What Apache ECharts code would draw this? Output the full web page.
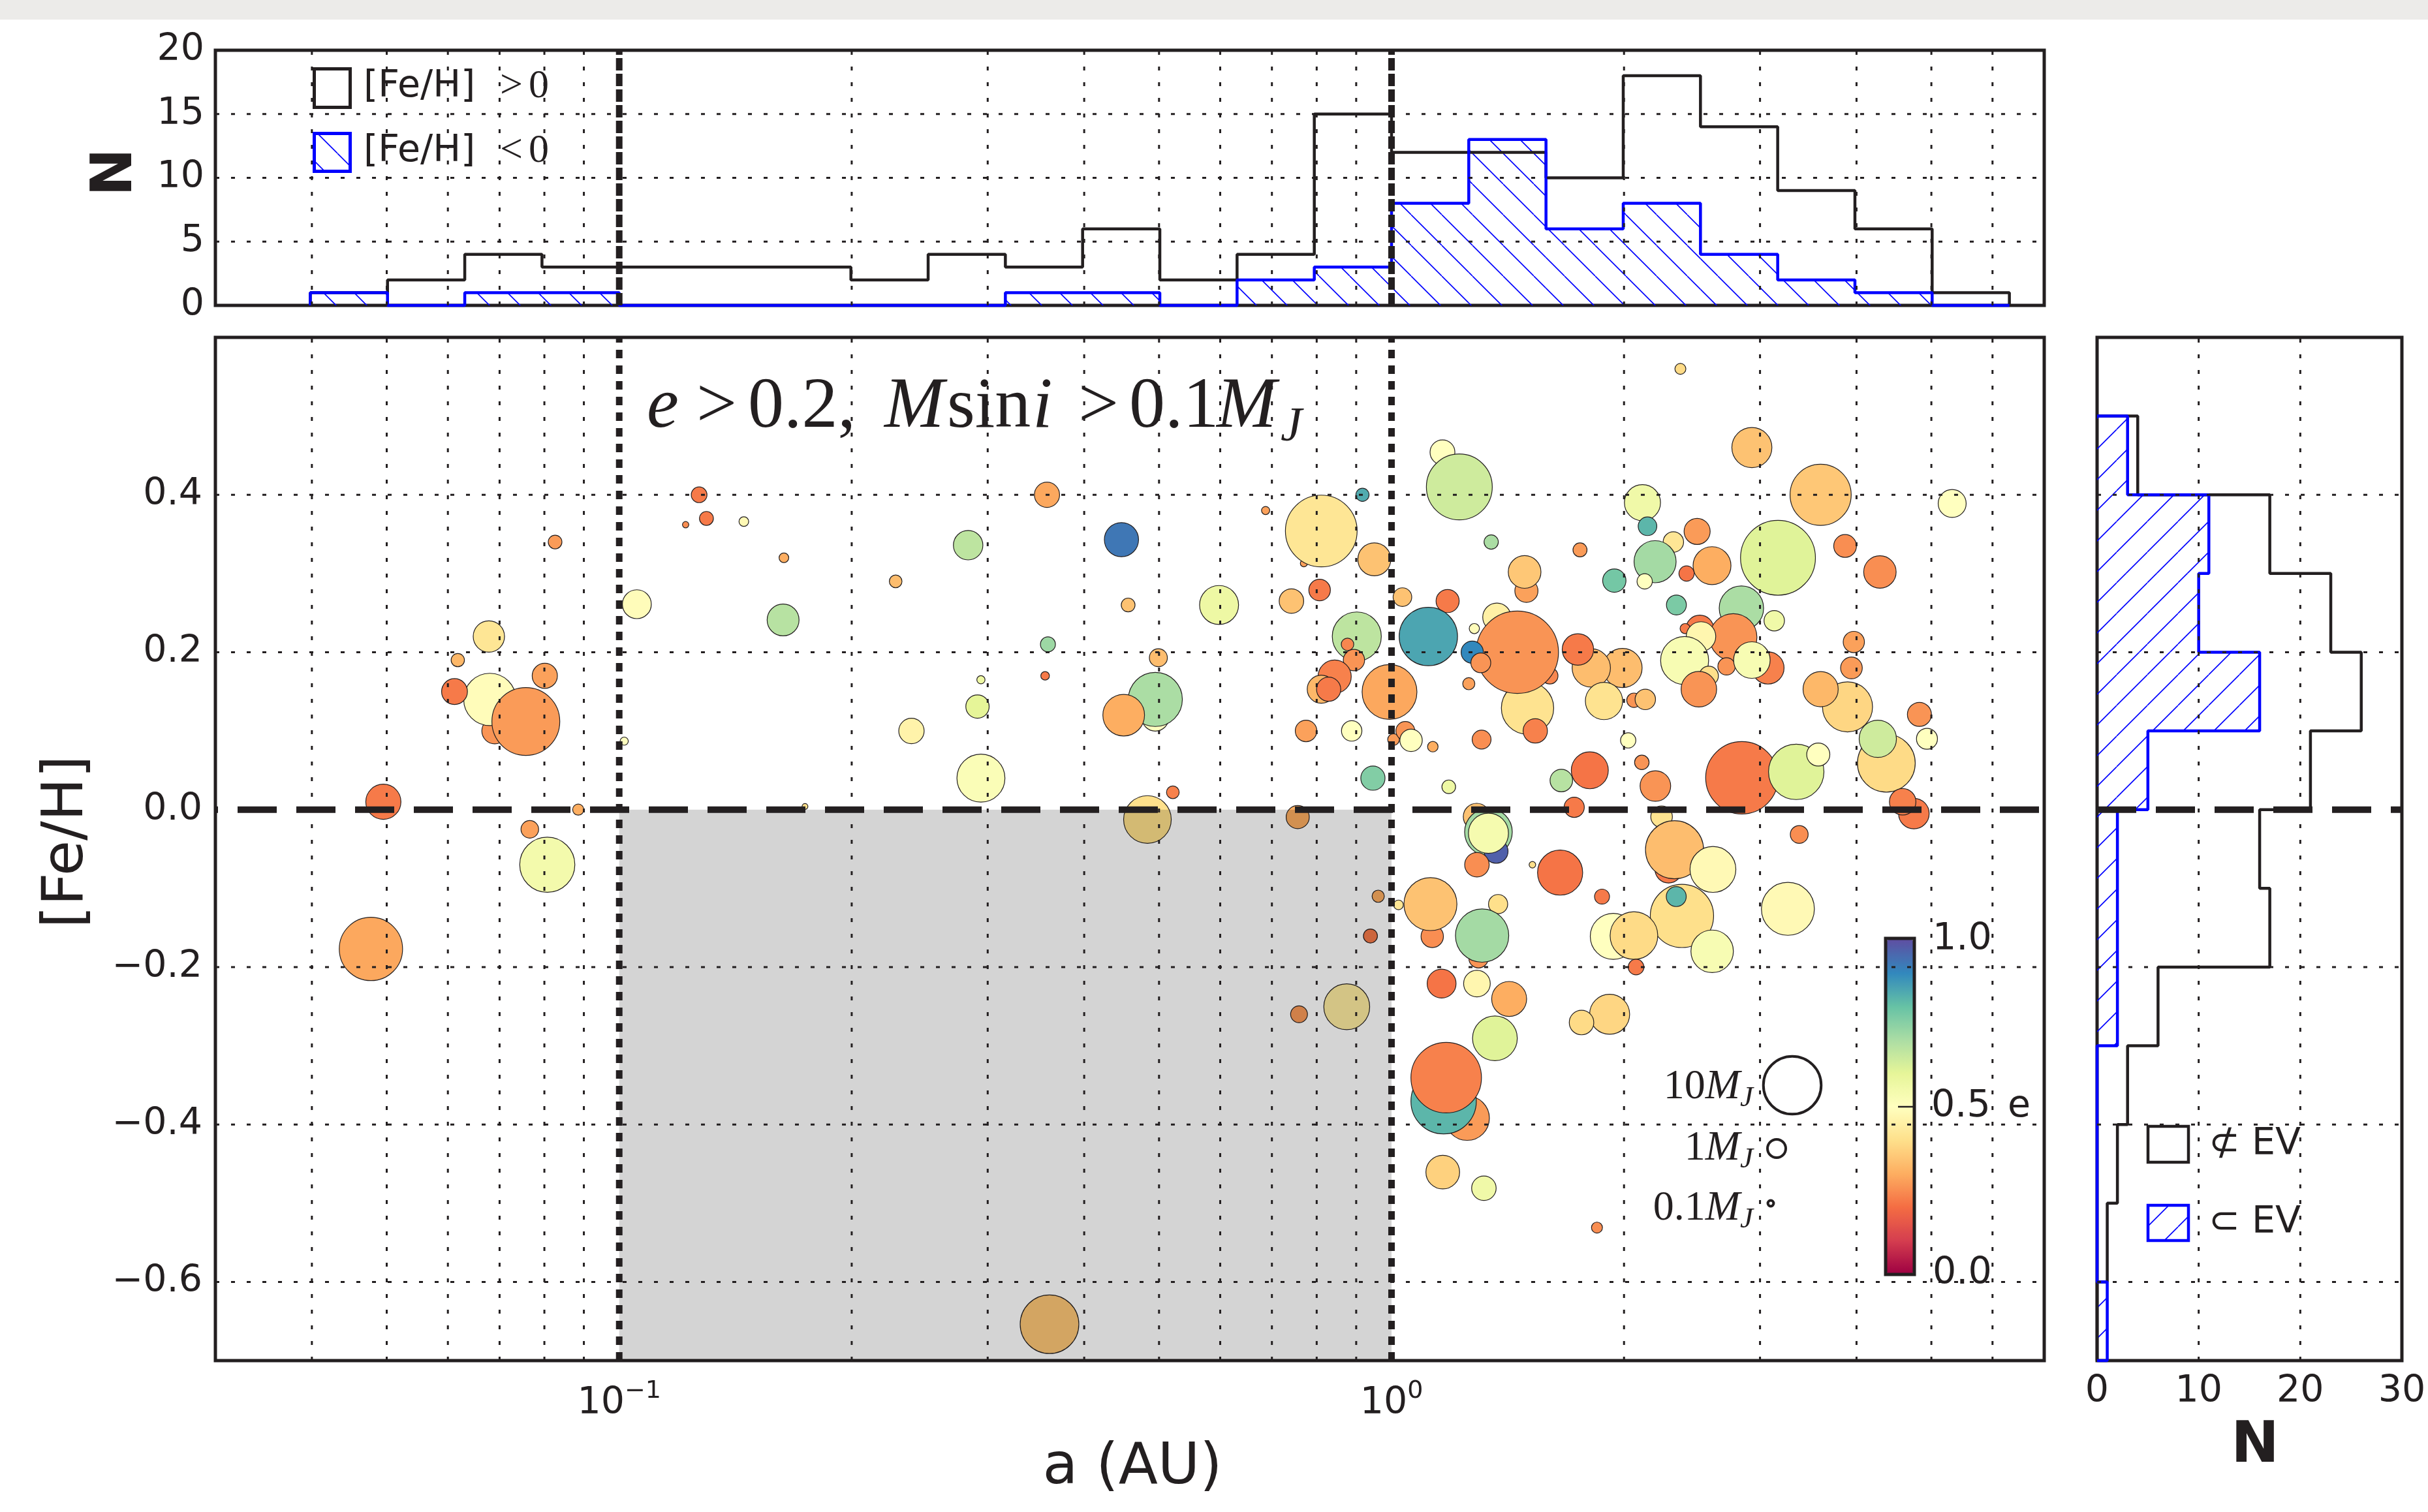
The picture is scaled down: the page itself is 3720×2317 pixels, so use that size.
<!DOCTYPE html>
<html><head><meta charset="utf-8">
<script src="https://cdn.jsdelivr.net/npm/echarts@6/dist/echarts.min.js"></script>
<style>html,body{margin:0;padding:0;background:#fff}#c{width:3720px;height:2317px}</style>
</head><body><div id="c"></div>
<script>
// ---------------- data ----------------
// planets: semi-major axis (AU), [Fe/H], Msini (MJ), eccentricity
const aAU = [
 0.0826,0.0678,0.0618,0.0690,0.0680,0.0612,0.0801,0.0757,0.1015,0.0495,0.0885,0.0766,0.0807,0.0477,0.174,
 0.1269,0.1297,0.1219,0.145,0.1634,0.1054,0.163,0.228,0.283,0.358,0.447,0.687,0.770,0.811,0.456,0.598,0.742,0.807,0.359,0.356,0.294,0.291,0.239,0.294,0.499,0.4945,0.4945,0.450,0.521,0.775,
 0.483,0.756,0.961,0.939,0.875,0.759,0.3607,1.021,
 0.917,0.950,0.9016,0.877,0.894,0.844,0.811,0.829,0.994,0.888,0.946,1.006,1.042,1.060,1.131,
 2.366,1.164,1.224,1.346,1.754,1.495,1.487,1.033,1.182,1.116,1.280,1.369,1.500,1.603,1.455,1.272,1.305,1.259,1.535,1.308,1.186,1.659,1.806,1.724,
 1.991,1.814,1.743,1.884,2.060,2.131,2.025,2.109,2.196,2.113,2.145,2.317,2.194,2.127,2.410,1.943,2.338,2.487,2.600,2.928,3.594,5.320,3.165,3.866,4.289,2.838,3.130,
 2.507,2.770,2.400,2.516,2.396,2.575,2.500,2.715,3.072,2.928,3.968,3.940,3.894,3.594,4.825,4.935,4.372,4.262,2.842,3.342,3.569,4.746,4.590,
 3.372,1.289,1.335,1.366,1.335,1.290,1.522,1.653,1.873,2.237,2.284,2.325,2.377,2.337,2.607,3.260,2.601,1.937,2.060,2.073,1.916,1.762,
 1.129,1.123,1.374,1.296,1.310,1.161,1.290,1.420,1.361,1.253,1.168,1.177,1.165,1.317,1.845
];
const feH = [
 0.340,0.220,0.190,0.100,0.140,0.150,0.170,0.112,0.087,0.010,0.000,-0.025,-0.070,-0.177,0.004,
 0.400,0.370,0.362,0.366,0.320,0.261,0.241,0.290,0.336,0.400,0.343,0.380,0.313,0.354,0.260,0.260,0.265,0.279,0.210,0.170,0.165,0.131,0.100,0.040,0.193,0.117,0.140,0.120,0.022,0.100,
 -0.0125,-0.0095,-0.110,-0.1605,-0.2505,-0.260,-0.6538,-0.121,
 0.400,0.318,0.220,0.210,0.190,0.169,0.153,0.153,0.1495,0.100,0.040,0.089,0.100,0.088,0.080,
 0.560,0.454,0.410,0.340,0.330,0.278,0.302,0.270,0.265,0.220,0.230,0.2445,0.129,0.170,0.200,0.200,0.1865,0.160,0.100,0.089,0.029,0.037,0.050,0.003,
 0.180,0.180,0.2035,0.138,0.139,0.140,0.088,0.060,0.030,0.390,0.360,0.340,0.315,0.290,0.300,0.291,0.260,0.3535,0.310,0.460,0.400,0.389,0.320,0.335,0.302,0.256,0.240,
 0.2295,0.219,0.230,0.220,0.1895,0.170,0.153,0.182,0.180,0.190,0.213,0.180,0.1305,0.153,0.121,0.090,0.059,0.090,0.0405,0.048,0.070,-0.005,0.010,
 -0.0315,-0.009,-0.0285,-0.053,-0.030,-0.070,-0.070,-0.080,-0.1105,-0.009,-0.076,-0.051,-0.135,-0.1105,-0.076,-0.126,-0.180,-0.161,-0.160,-0.200,-0.260,-0.2705,
 -0.161,-0.120,-0.120,-0.189,-0.160,-0.221,-0.221,-0.2405,-0.2905,-0.392,-0.3705,-0.3405,-0.4605,-0.481,-0.531
];
const massMJ = [
 0.56,2.94,0.53,2.0,8.2,2.0,1.9,13.8,0.2,3.7,0.37,0.93,9.1,12.0,0.1,
 0.74,0.58,0.12,0.28,0.28,2.5,3.05,0.48,2.6,1.9,3.5,0.2,0.15,15.4,0.57,4.55,1.8,1.39,0.67,0.22,0.2,1.63,1.93,6.9,0.97,2.2,8.75,5.2,0.48,1.39,
 6.8,1.6,0.45,0.59,6.3,0.85,10.3,0.28,
 0.52,3.25,7.2,0.47,1.36,3.3,2.36,1.75,9.0,1.25,1.76,0.41,1.07,1.5,0.33,
 0.36,1.85,13.0,0.61,0.59,1.6,3.2,1.04,1.6,10.2,0.31,2.4,8.2,0.8,20.3,1.48,1.18,0.44,1.77,1.07,0.56,1.52,4.1,1.22,
 4.6,4.4,2.95,4.15,0.62,1.25,0.7,0.63,2.8,3.9,1.04,1.25,5.3,0.7,0.7,1.63,1.19,2.04,4.3,4.8,11.2,2.35,16.8,1.55,3.15,5.9,1.25,
 2.3,6.7,0.31,2.6,6.9,1.1,3.77,0.9,3.1,4.0,1.35,1.41,7.5,3.7,1.73,1.32,10.0,4.16,15.7,9.2,1.6,2.8,2.1,
 0.95,2.15,6.8,1.7,4.8,1.8,0.13,6.1,0.67,1.4,2.2,10.1,12.0,1.19,6.3,8.4,5.4,6.35,6.8,0.73,4.8,1.8,
 1.5,8.4,1.1,1.1,8.5,2.5,2.13,3.66,6.0,5.9,12.8,14.9,3.4,1.8,0.36
];
const ecc = [
 0.27,0.42,0.32,0.26,0.49,0.22,0.28,0.27,0.50,0.22,0.30,0.28,0.55,0.29,0.40,
 0.22,0.22,0.25,0.48,0.30,0.49,0.68,0.33,0.67,0.29,0.93,0.28,0.28,0.42,0.34,0.57,0.34,0.22,0.72,0.22,0.57,0.60,0.46,0.52,0.33,0.50,0.70,0.30,0.23,0.28,
 0.40,0.30,0.30,0.22,0.44,0.27,0.35,0.42,
 0.84,0.34,0.67,0.24,0.26,0.23,0.32,0.22,0.29,0.50,0.76,0.27,0.26,0.50,0.30,
 0.39,0.50,0.64,0.70,0.27,0.28,0.35,0.34,0.22,0.85,0.49,0.45,0.41,0.24,0.26,0.90,0.26,0.28,0.23,0.25,0.57,0.68,0.21,0.22,
 0.33,0.33,0.22,0.41,0.26,0.34,0.50,0.26,0.26,0.56,0.82,0.42,0.71,0.50,0.21,0.78,0.77,0.27,0.30,0.34,0.35,0.50,0.61,0.25,0.25,0.70,0.56,
 0.22,0.26,0.22,0.47,0.53,0.40,0.26,0.26,0.23,0.53,0.28,0.27,0.38,0.32,0.26,0.50,0.39,0.64,0.22,0.61,0.50,0.22,0.23,
 0.25,0.34,0.71,0.97,0.54,0.25,0.40,0.21,0.22,0.41,0.22,0.33,0.40,0.82,0.48,0.48,0.53,0.50,0.39,0.22,0.38,0.39,
 0.25,0.34,0.40,0.26,0.71,0.21,0.47,0.30,0.61,0.27,0.82,0.23,0.37,0.56,0.25
];

// top histogram of a: log10 bin edges, counts for [Fe/H]>0 and [Fe/H]<0
const aLogEdges = [-1.4,-1.3,-1.2,-1.1,-1.0,-0.9,-0.8,-0.7,-0.6,-0.5,-0.4,-0.3,-0.2,-0.1,0.0,0.1,0.2,0.3,0.4,0.5,0.6,0.7,0.8];
const nFeHpos = [1,2,4,3,3,3,3,2,4,3,6,2,4,15,12,12,10,18,14,9,6,1];
const nFeHneg = [1,0,1,1,0,0,0,0,0,1,1,0,2,3,8,13,6,8,4,2,1,0];

// right histogram of [Fe/H]: bin edges (top to bottom), counts outside / inside EV
const fehEdges = [0.5,0.4,0.3,0.2,0.1,0.0,-0.1,-0.2,-0.3,-0.4,-0.5,-0.6,-0.7];
const nNotEV = [4,17,23,26,21,16,17,6,3,2,1,0];
const nInEV  = [3,11,10,16,5,2,2,2,0,0,0,1];

// axis ticks / grid positions
const aMinorGrid = [0.04,0.05,0.06,0.07,0.08,0.09,0.2,0.3,0.4,0.5,0.6,0.7,0.8,0.9,2,3,4,5,6];
const aMajorLines = [0.1, 1];
const fehGrid = [-0.6,-0.4,-0.2,0.2,0.4];
const nTopGrid = [5,10,15];
const nRightGrid = [10,20];
const evRegion = [0.1, 1.0, -0.7, 0.0];   // a from 0.1 to 1 AU, [Fe/H] < 0
const sizeLegendMass = [10, 1, 0.1];

// ---------------- styling ----------------
const SPECTRAL = ['#9e0142','#d53e4f','#f46d43','#fdae61','#fee08b','#ffffbf','#e6f598','#abdda4','#66c2a5','#3288bd','#5e4fa2'];
const INK = '#231f20';
const BLUE = '#0000ff';
const SANS = 'DejaVu Sans';
const SERIF = 'Liberation Serif';
const TICK = 57;
const sizeOf = m => 28 * Math.sqrt(m);

function makeHatch(dir) {
  const s = 47, c = document.createElement('canvas');
  c.width = s; c.height = s;
  const g = c.getContext('2d');
  g.strokeStyle = BLUE; g.lineWidth = 1.6;
  g.beginPath();
  for (let k = -1; k <= 1; k++) {
    if (dir === 'back') { g.moveTo(k * s, 0); g.lineTo(k * s + s, s); }
    else { g.moveTo(k * s, s); g.lineTo(k * s + s, 0); }
  }
  g.stroke();
  return { image: c, repeat: 'repeat' };
}
const hatchBack = makeHatch('back');
const hatchFwd = makeHatch('fwd');

const points = aAU.map((a, i) => [a, feH[i], massMJ[i], ecc[i]]);
const aEdges = aLogEdges.map(v => Math.pow(10, v));

function stepTop(counts) {
  const pts = [[aEdges[0], 0]];
  counts.forEach((c, i) => { pts.push([aEdges[i], c]); pts.push([aEdges[i + 1], c]); });
  pts.push([aEdges[aEdges.length - 1], 0]);
  return pts;
}
function stepRight(counts) {
  const pts = [[0, fehEdges[0]]];
  counts.forEach((c, i) => { pts.push([c, fehEdges[i]]); pts.push([c, fehEdges[i + 1]]); });
  pts.push([0, fehEdges[fehEdges.length - 1]]);
  return pts;
}

function lineSet(xi, yi, segs, style, z) {
  return {
    type: 'custom', xAxisIndex: xi, yAxisIndex: yi, z: z, silent: true,
    data: segs, encode: { x: [0, 2], y: [1, 3] },
    renderItem: (p, api) => {
      const s = api.coord([api.value(0), api.value(1)]);
      const t = api.coord([api.value(2), api.value(3)]);
      return { type: 'line', shape: { x1: s[0], y1: s[1], x2: t[0], y2: t[1] },
               style: Object.assign({ stroke: INK, fill: null }, style) };
    }
  };
}
const DOT = { lineWidth: 3, lineDash: [6, 18] };

function fehLabel(v) {
  const k = Math.round(v * 10);
  if (k % 2 !== 0 || k < -6 || k > 4) return '';
  return (k < 0 ? '\u2212' : '') + (Math.abs(k) / 10).toFixed(1);
}
function logLabel(v) {
  const e = Math.log10(v), r = Math.round(e);
  if (Math.abs(e - r) > 1e-6) return '';
  return '{b|10}{s|' + (r < 0 ? '\u2212' : '') + Math.abs(r) + '}';
}

const labelBase = { fontFamily: SANS, fontSize: TICK, color: INK };

const topBins = nFeHneg.map((n, i) => [aEdges[i], aEdges[i + 1], n]);
const rightBins = nInEV.map((n, i) => [n, fehEdges[i], fehEdges[i + 1]]);

const serifRich = (size) => ({
  fontFamily: SERIF, fontSize: size, lineHeight: Math.round(size * 1.24), color: INK, fill: INK
});

const option = {
  animation: false,
  backgroundColor: '#ffffff',
  grid: [
    { left: 330, top: 517, width: 2802, height: 1568, show: true, borderColor: INK, borderWidth: 5, backgroundColor: 'transparent' },
    { left: 330, top: 77, width: 2802, height: 391, show: true, borderColor: INK, borderWidth: 5, backgroundColor: 'transparent' },
    { left: 3213, top: 517, width: 467, height: 1568, show: true, borderColor: INK, borderWidth: 5, backgroundColor: 'transparent' }
  ],
  xAxis: [
    { type: 'log', logBase: 10, min: 0.03, max: 7, gridIndex: 0,
      axisLine: { show: false }, axisTick: { show: false }, splitLine: { show: false },
      axisLabel: { formatter: logLabel, margin: 28,
        rich: { b: Object.assign({}, labelBase, { lineHeight: 76 }),
                s: Object.assign({}, labelBase, { fontSize: 38, lineHeight: 38, verticalAlign: 'top' }) } } },
    { type: 'log', logBase: 10, min: 0.03, max: 7, gridIndex: 1,
      axisLine: { show: false }, axisTick: { show: false }, splitLine: { show: false }, axisLabel: { show: false } },
    { type: 'value', min: 0, max: 30, interval: 10, gridIndex: 2,
      axisLine: { show: false }, axisTick: { show: false }, splitLine: { show: false },
      axisLabel: Object.assign({ margin: 20, lineHeight: 56 }, labelBase) }
  ],
  yAxis: [
    { type: 'value', min: -0.7, max: 0.6, interval: 0.1, gridIndex: 0,
      axisLine: { show: false }, axisTick: { show: false }, splitLine: { show: false },
      axisLabel: Object.assign({ formatter: fehLabel, margin: 20 }, labelBase) },
    { type: 'value', min: 0, max: 20, interval: 5, gridIndex: 1,
      axisLine: { show: false }, axisTick: { show: false }, splitLine: { show: false },
      axisLabel: Object.assign({ margin: 17 }, labelBase) },
    { type: 'value', min: -0.7, max: 0.6, interval: 0.1, gridIndex: 2,
      axisLine: { show: false }, axisTick: { show: false }, splitLine: { show: false },
      axisLabel: { show: false } }
  ],
  visualMap: {
    type: 'continuous', seriesIndex: 0, dimension: 3, min: 0, max: 1,
    inRange: { color: SPECTRAL }, calculable: false, hoverLink: false,
    left: 2891, top: 1440, itemWidth: 40, itemHeight: 512, padding: 0, text: null
  },
  series: [
    { type: 'scatter', xAxisIndex: 0, yAxisIndex: 0, z: 2, silent: true,
      data: points, symbolSize: d => sizeOf(d[2]),
      itemStyle: { borderColor: INK, borderWidth: 1.2, opacity: 1 } },
    { type: 'custom', xAxisIndex: 0, yAxisIndex: 0, z: 3, silent: true,
      data: [evRegion], encode: { x: [0, 1], y: [2, 3] },
      renderItem: (p, api) => {
        const s = api.coord([api.value(0), api.value(2)]);
        const t = api.coord([api.value(1), api.value(3)]);
        return { type: 'rect', shape: { x: s[0], y: t[1], width: t[0] - s[0], height: s[1] - t[1] },
                 style: { fill: 'rgba(0,0,0,0.17)' } };
      } },
    lineSet(0, 0, aMinorGrid.map(v => [v, -0.7, v, 0.6]), DOT, 4),
    lineSet(0, 0, fehGrid.map(v => [0.03, v, 7, v]), DOT, 4),
    lineSet(0, 0, aMajorLines.map(v => [v, -0.7, v, 0.6]), { lineWidth: 10, lineDash: [13, 11] }, 5),
    lineSet(0, 0, [[0.03, 0, 7, 0]], { lineWidth: 10, lineDash: [60, 30], lineDashOffset: 56 }, 5),

    // top histogram
    { type: 'custom', xAxisIndex: 1, yAxisIndex: 1, z: 2, silent: true,
      data: topBins, encode: { x: [0, 1], y: 2 },
      renderItem: (p, api) => {
        const n = api.value(2); if (!(n > 0)) return null;
        const s = api.coord([api.value(0), 0]); const t = api.coord([api.value(1), n]);
        return { type: 'rect', shape: { x: s[0], y: t[1], width: t[0] - s[0], height: s[1] - t[1] }, style: { fill: hatchBack } };
      } },
    { type: 'line', xAxisIndex: 1, yAxisIndex: 1, z: 3, silent: true, clip: false, symbol: 'none',
      data: stepTop(nFeHpos), lineStyle: { color: INK, width: 4.5 } },
    { type: 'line', xAxisIndex: 1, yAxisIndex: 1, z: 3, silent: true, clip: false, symbol: 'none',
      data: stepTop(nFeHneg), lineStyle: { color: BLUE, width: 4.5 } },
    lineSet(1, 1, aMinorGrid.map(v => [v, 0, v, 20]), DOT, 4),
    lineSet(1, 1, nTopGrid.map(v => [0.03, v, 7, v]), DOT, 4),
    lineSet(1, 1, aMajorLines.map(v => [v, 0, v, 20]), { lineWidth: 10, lineDash: [19, 5] }, 5),

    // right histogram
    { type: 'custom', xAxisIndex: 2, yAxisIndex: 2, z: 2, silent: true,
      data: rightBins, encode: { x: 0, y: [1, 2] },
      renderItem: (p, api) => {
        const n = api.value(0); if (!(n > 0)) return null;
        const s = api.coord([0, api.value(1)]); const t = api.coord([n, api.value(2)]);
        return { type: 'rect', shape: { x: s[0], y: s[1], width: t[0] - s[0], height: t[1] - s[1] }, style: { fill: hatchFwd } };
      } },
    { type: 'line', xAxisIndex: 2, yAxisIndex: 2, z: 3, silent: true, clip: false, symbol: 'none',
      data: stepRight(nNotEV), lineStyle: { color: INK, width: 4.5 } },
    { type: 'line', xAxisIndex: 2, yAxisIndex: 2, z: 3, silent: true, clip: false, symbol: 'none',
      data: stepRight(nInEV), lineStyle: { color: BLUE, width: 4.5 } },
    lineSet(2, 2, fehGrid.map(v => [0, v, 30, v]), DOT, 4),
    lineSet(2, 2, nRightGrid.map(v => [v, -0.7, v, 0.6]), DOT, 4),
    lineSet(2, 2, [[0, 0, 30, 0]], { lineWidth: 10, lineDash: [60, 30] }, 5)
  ],
  graphic: [
    { type: 'rect', z: -10, shape: { x: 0, y: 0, width: 3720, height: 30 }, style: { fill: '#ecebe9' } },
    // axis titles
    { type: 'text', x: 1735, y: 2250, style: { text: 'a (AU)', fontFamily: SANS, fontSize: 88, fill: INK, align: 'center', verticalAlign: 'middle' } },
    { type: 'text', x: 103, y: 1290, rotation: Math.PI / 2, style: { text: '[Fe/H]', fontFamily: SANS, fontSize: 88, fill: INK, align: 'center', verticalAlign: 'middle' } },
    { type: 'text', x: 178, y: 264, rotation: Math.PI / 2, style: { text: 'N', fontFamily: SANS, fontWeight: 'bold', fontSize: 88, fill: INK, align: 'center', verticalAlign: 'middle' } },
    { type: 'text', x: 3455, y: 2217, style: { text: 'N', fontFamily: SANS, fontWeight: 'bold', fontSize: 88, fill: INK, align: 'center', verticalAlign: 'middle' } },
    // annotation
    { type: 'text', x: 991, y: 557, z: 50, style: {
        text: '{e|e}{g|>}{n1|0.2,}{M1|M}{sin|sin}{i|i}{g2|>}{n2|0.1}{M2|M}{J|J}',
        align: 'left', verticalAlign: 'top',
        rich: {
          e: Object.assign(serifRich(110), { fontStyle: 'italic', width: 76 }),
          g: Object.assign(serifRich(110), { width: 79 }),
          n1: Object.assign(serifRich(110), { width: 209 }),
          M1: Object.assign(serifRich(110), { fontStyle: 'italic', width: 96 }),
          sin: Object.assign(serifRich(110), { width: 131 }),
          i: Object.assign(serifRich(110), { fontStyle: 'italic', width: 70 }),
          g2: Object.assign(serifRich(110), { width: 78 }),
          n2: Object.assign(serifRich(110), { width: 134 }),
          M2: Object.assign(serifRich(110), { fontStyle: 'italic', width: 98 }),
          J: { fontFamily: SERIF, fontStyle: 'italic', fontSize: 74, lineHeight: 74, verticalAlign: 'bottom', fill: INK, color: INK }
        } } },
    // top legend
    { type: 'rect', z: 50, shape: { x: 481.5, y: 105.5, width: 55, height: 59 }, style: { fill: '#fff', stroke: INK, lineWidth: 5 } },
    { type: 'rect', z: 50, shape: { x: 481.5, y: 204.5, width: 55, height: 58 }, style: { fill: hatchBack, stroke: BLUE, lineWidth: 5 } },
    { type: 'text', x: 557, y: 133, z: 50, style: { text: '{a|[Fe/H]}{g|>}{n|0}', verticalAlign: 'middle',
        rich: { a: { fontFamily: SANS, fontSize: 57, width: 209, fill: INK }, g: { fontFamily: SERIF, fontSize: 62, width: 44, fill: INK }, n: { fontFamily: SERIF, fontSize: 62, fill: INK } } } },
    { type: 'text', x: 557, y: 232, z: 50, style: { text: '{a|[Fe/H]}{g|<}{n|0}', verticalAlign: 'middle',
        rich: { a: { fontFamily: SANS, fontSize: 57, width: 209, fill: INK }, g: { fontFamily: SERIF, fontSize: 62, width: 44, fill: INK }, n: { fontFamily: SERIF, fontSize: 62, fill: INK } } } },
    // right legend
    { type: 'rect', z: 50, shape: { x: 3291, y: 1726, width: 62, height: 55 }, style: { fill: '#fff', stroke: INK, lineWidth: 4.5 } },
    { type: 'rect', z: 50, shape: { x: 3291, y: 1847, width: 62, height: 54 }, style: { fill: hatchFwd, stroke: BLUE, lineWidth: 4.5 } },
    { type: 'text', x: 3384, y: 1754, z: 50, style: { text: '\u2284 EV', fontFamily: SANS, fontSize: 57, fill: INK, verticalAlign: 'middle' } },
    { type: 'text', x: 3384, y: 1874, z: 50, style: { text: '\u2282 EV', fontFamily: SANS, fontSize: 57, fill: INK, verticalAlign: 'middle' } },
    // colorbar frame, tick and labels
    { type: 'rect', z: 60, shape: { x: 2889, y: 1438, width: 44, height: 515 }, style: { fill: null, stroke: INK, lineWidth: 5 } },
    { type: 'line', z: 60, shape: { x1: 2908, y1: 1696, x2: 2931, y2: 1696 }, style: { stroke: INK, lineWidth: 2.5 } },
    { type: 'text', x: 2961, y: 1440, z: 60, style: { text: '1.0', fontFamily: SANS, fontSize: TICK, fill: INK, verticalAlign: 'middle' } },
    { type: 'text', x: 2959, y: 1696, z: 60, style: { text: '0.5', fontFamily: SANS, fontSize: TICK, fill: INK, verticalAlign: 'middle' } },
    { type: 'text', x: 3076, y: 1696, z: 60, style: { text: 'e', fontFamily: SANS, fontSize: TICK, fill: INK, verticalAlign: 'middle' } },
    { type: 'text', x: 2961, y: 1952, z: 60, style: { text: '0.0', fontFamily: SANS, fontSize: TICK, fill: INK, verticalAlign: 'middle' } },
    // size legend
    { type: 'circle', z: 60, shape: { cx: 2746, cy: 1663, r: sizeOf(sizeLegendMass[0]) / 2 }, style: { fill: null, stroke: INK, lineWidth: 4 } },
    { type: 'circle', z: 60, shape: { cx: 2722, cy: 1760, r: sizeOf(sizeLegendMass[1]) / 2 }, style: { fill: null, stroke: INK, lineWidth: 4 } },
    { type: 'circle', z: 60, shape: { cx: 2713, cy: 1844, r: sizeOf(sizeLegendMass[2]) / 2 }, style: { fill: null, stroke: INK, lineWidth: 4 } },
    ...[['10', 1627], ['1', 1721], ['0.1', 1813]].map(([t, y]) => ({
      type: 'text', x: 2686, y: y, z: 60, style: {
        text: '{n|' + t + '}{m|M}{j|J}', align: 'right', verticalAlign: 'top',
        rich: { n: serifRich(64), m: Object.assign(serifRich(64), { fontStyle: 'italic' }),
                j: { fontFamily: SERIF, fontStyle: 'italic', fontSize: 45, lineHeight: 45, verticalAlign: 'bottom', fill: INK, color: INK } } } }))
  ]
};

const chart = echarts.init(document.getElementById('c'), null, { renderer: 'canvas', width: 3720, height: 2317 });
chart.setOption(option);
</script>
</body></html>
